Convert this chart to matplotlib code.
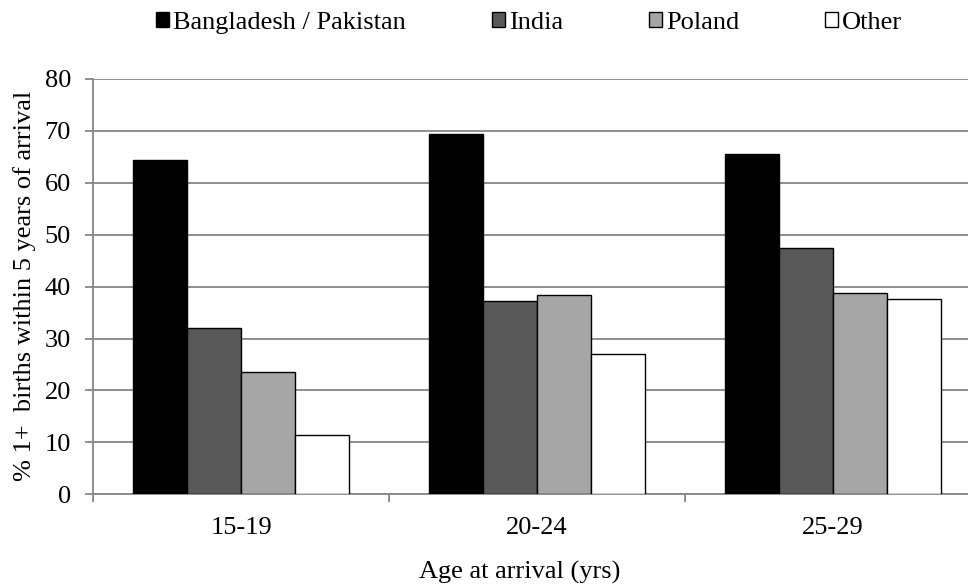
import numpy as np
import matplotlib
matplotlib.use("Agg")
import matplotlib.pyplot as plt
from matplotlib.ticker import FixedLocator

plt.rcParams['font.family'] = ['Liberation Serif', 'DejaVu Serif']

# data
age_groups = ['15-19', '20-24', '25-29']
series_names = ['Bangladesh / Pakistan', 'India', 'Poland', 'Other']
bangladesh_pakistan = [64.4, 69.4, 65.5]
india = [32.1, 37.2, 47.5]
poland = [23.6, 38.3, 38.8]
other = [11.5, 27.1, 37.6]
y_ticks = [0, 10, 20, 30, 40, 50, 60, 70, 80]

values = [bangladesh_pakistan, india, poland, other]
colors = ['#000000', '#595959', '#a6a6a6', '#ffffff']
grid_col = '#868686'
fs = 19

fig = plt.figure(figsize=(9.68, 5.86), dpi=100)
# right edge runs past the figure, as in the (cropped) original
ax = fig.add_axes([93.3 / 968, 1 - 494.3 / 586, 887.4 / 968, (494.3 - 79) / 586])

x = np.arange(len(age_groups))
bw = 0.1826
for i, (vals, col, name) in enumerate(zip(values, colors, series_names)):
    ax.bar(x + (i - 1.5) * bw, vals, width=bw, color=col, edgecolor='black',
           linewidth=1.0, label=name, zorder=3)

ax.set_xlim(-0.5, 2.5)
ax.set_ylim(0, 80)
ax.set_yticks(y_ticks)
ax.set_yticklabels([str(t) for t in y_ticks])
ax.yaxis.grid(True, color=grid_col, linewidth=1.3, zorder=0)
ax.set_axisbelow(True)

ax.set_xticks(x)
ax.set_xticklabels(age_groups)
ax.xaxis.set_minor_locator(FixedLocator([-0.5, 0.5, 1.5, 2.5]))
ax.tick_params(axis='x', which='major', length=0, pad=16.5, labelsize=fs)
ax.tick_params(axis='x', which='minor', length=6, width=1.3, color=grid_col, direction='out')
ax.tick_params(axis='y', length=6, width=1.3, color=grid_col, pad=10, labelsize=fs)

for s in ['top', 'right']:
    ax.spines[s].set_visible(False)
for s in ['left', 'bottom']:
    ax.spines[s].set_color(grid_col)
    ax.spines[s].set_linewidth(1.3)

fig.text(25 / 968, 1 - 286 / 586, '% 1+  births within 5 years of arrival',
         rotation=90, ha='center', va='center', fontsize=fs)
fig.text(520 / 968, 1 - 572 / 586, 'Age at arrival (yrs)',
         ha='center', va='center', fontsize=fs)

handles, labels = ax.get_legend_handles_labels()
fig.legend(handles, labels, loc='center', bbox_to_anchor=(529 / 968, 1 - 23 / 586),
           ncol=4, frameon=False, fontsize=fs, handlelength=0.5, handleheight=0.5,
           handletextpad=0.15, columnspacing=3.25, borderaxespad=0)

fig.savefig('out.png', dpi=100)
